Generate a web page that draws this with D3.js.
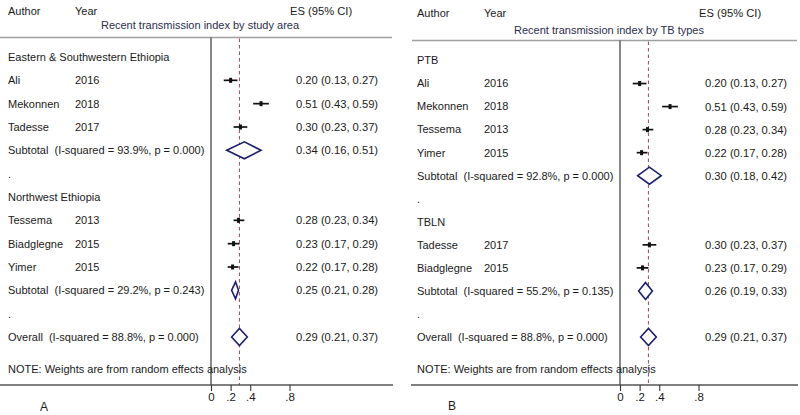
<!DOCTYPE html>
<html><head><meta charset="utf-8">
<script src="https://cdn.jsdelivr.net/npm/d3@7"></script>
<style>
body{margin:0;background:#fff;}
text{font-family:"Liberation Sans",Arial,sans-serif;font-size:11px;fill:#1a1a1a;white-space:pre;}
text.es{font-size:11.2px;}
</style></head><body>
<svg id="c" width="800" height="415"></svg>
<script>
// ---------- data ----------
const tickValues = [0, 0.2, 0.4, 0.8];
const tickLabels = ["0", ".2", ".4", ".8"];

const titleA = "Recent transmission index by study area";
const groupsA = ["Eastern & Southwestern Ethiopia", "Northwest Ethiopia"];
const authorsA = ["Ali", "Mekonnen", "Tadesse", "Tessema", "Biadglegne", "Yimer"];
const yearsA = [2016, 2018, 2017, 2013, 2015, 2015];
const groupOfA = [0, 0, 0, 1, 1, 1];
const esA = [0.20, 0.51, 0.30, 0.28, 0.23, 0.22];
const lowA = [0.13, 0.43, 0.23, 0.23, 0.17, 0.17];
const highA = [0.27, 0.59, 0.37, 0.34, 0.29, 0.28];
const subEsA = [0.34, 0.25];
const subLowA = [0.16, 0.21];
const subHighA = [0.51, 0.28];
const subI2A = ["93.9%", "29.2%"];
const subPA = ["0.000", "0.243"];

const titleB = "Recent transmission index by TB types";
const groupsB = ["PTB", "TBLN"];
const authorsB = ["Ali", "Mekonnen", "Tessema", "Yimer", "Tadesse", "Biadglegne"];
const yearsB = [2016, 2018, 2013, 2015, 2017, 2015];
const groupOfB = [0, 0, 0, 0, 1, 1];
const esB = [0.20, 0.51, 0.28, 0.22, 0.30, 0.23];
const lowB = [0.13, 0.43, 0.23, 0.17, 0.23, 0.17];
const highB = [0.27, 0.59, 0.34, 0.28, 0.37, 0.29];
const subEsB = [0.30, 0.26];
const subLowB = [0.18, 0.19];
const subHighB = [0.42, 0.33];
const subI2B = ["92.8%", "55.2%"];
const subPB = ["0.000", "0.135"];

const overallEs = 0.29, overallLow = 0.21, overallHigh = 0.37;
const overallI2 = "88.8%", overallP = "0.000";

// ---------- drawing ----------
const svg = d3.select("#c");
const fmt = d3.format(".2f");
const esText = (e, l, h) => `${fmt(e)} (${fmt(l)}, ${fmt(h)})`;

function panel(cfg) {
  const g = svg.append("g").attr("transform", `translate(${cfg.off},0)`);
  const x = d3.scaleLinear().domain([0, 0.8]).range([211, 289.5]);
  const rows = [];
  cfg.groups.forEach((gr, gi) => {
    rows.push({type: "group", label: gr});
    cfg.authors.forEach((a, i) => {
      if (cfg.groupOf[i] === gi) rows.push({type: "study", author: a, year: cfg.years[i], es: cfg.es[i], lo: cfg.low[i], hi: cfg.high[i]});
    });
    rows.push({type: "diamond", label: `Subtotal  (I-squared = ${cfg.subI2[gi]}, p = ${cfg.subP[gi]})`, es: cfg.subEs[gi], lo: cfg.subLow[gi], hi: cfg.subHigh[gi]});
    rows.push({type: "dot"});
  });
  rows.push({type: "diamond", label: `Overall  (I-squared = ${overallI2}, p = ${overallP})`, es: overallEs, lo: overallLow, hi: overallHigh});
  const y = d3.scaleLinear().domain([0, rows.length - 1]).range([cfg.y0, 337]);

  g.append("text").attr("x", 8).attr("y", cfg.hy).attr("dy", "0.35em").text("Author");
  g.append("text").attr("x", 75).attr("y", cfg.hy).attr("dy", "0.35em").text("Year");
  g.append("text").attr("class", "es").attr("x", 290).attr("y", cfg.hy).attr("dy", "0.35em").text("ES (95% CI)");
  g.append("text").attr("x", 200).attr("y", cfg.ty).attr("dy", "0.35em").attr("text-anchor", "middle")
    .style("fill", "#2b2e4e").text(cfg.title);
  g.append("line").attr("x1", cfg.sepX1).attr("x2", cfg.sepX2).attr("y1", cfg.sy).attr("y2", cfg.sy)
    .attr("stroke", "#a0a0a0").attr("stroke-width", 1.5);

  g.append("line").attr("x1", x(0)).attr("x2", x(0)).attr("y1", cfg.sy).attr("y2", 385)
    .attr("stroke", "#3a3a3a").attr("stroke-width", 1.2);
  g.append("line").attr("x1", x(overallEs)).attr("x2", x(overallEs)).attr("y1", cfg.sy + 1).attr("y2", 385)
    .attr("stroke", "#a4566e").attr("stroke-width", 1.1).attr("stroke-dasharray", "3.5,3");

  rows.forEach((r, i) => {
    const yy = y(i);
    if (r.type === "group") {
      g.append("text").attr("x", 8).attr("y", yy).attr("dy", "0.35em").text(r.label);
    } else if (r.type === "dot") {
      g.append("text").attr("x", 8).attr("y", yy).attr("dy", "0.35em").text(".");
    } else if (r.type === "study") {
      g.append("text").attr("x", 8).attr("y", yy).attr("dy", "0.35em").text(r.author);
      g.append("text").attr("x", 75).attr("y", yy).attr("dy", "0.35em").text(r.year);
      g.append("text").attr("class", "es").attr("x", 296).attr("y", yy).attr("dy", "0.35em").text(esText(r.es, r.lo, r.hi));
      g.append("line").attr("x1", x(r.lo)).attr("x2", x(r.hi)).attr("y1", yy).attr("y2", yy)
        .attr("stroke", "#111").attr("stroke-width", 1.7);
      g.append("rect").attr("x", x(r.es) - 1.5).attr("y", yy - 2.5).attr("width", 3).attr("height", 5).attr("fill", "#111");
    } else {
      g.append("text").attr("x", 8).attr("y", yy).attr("dy", "0.35em").text(r.label);
      g.append("text").attr("class", "es").attr("x", 296).attr("y", yy).attr("dy", "0.35em").text(esText(r.es, r.lo, r.hi));
      const h = 8.5;
      g.append("path")
        .attr("d", `M${x(r.lo)},${yy}L${x(r.es)},${yy - h}L${x(r.hi)},${yy}L${x(r.es)},${yy + h}Z`)
        .attr("fill", "#fff").attr("stroke", "#1c1f6a").attr("stroke-width", 1.6);
    }
  });

  g.append("text").attr("x", 8).attr("y", 369).attr("dy", "0.35em").text("NOTE: Weights are from random effects analysis");

  g.append("line").attr("x1", cfg.axX1).attr("x2", cfg.axX2).attr("y1", 385).attr("y2", 385)
    .attr("stroke", "#555").attr("stroke-width", 1.5);
  const axis = d3.axisBottom(x).tickValues(tickValues).tickFormat((d, i) => tickLabels[i]).tickSize(6).tickPadding(2);
  const ag = g.append("g").attr("transform", "translate(0,385)").call(axis);
  ag.select(".domain").remove();
  ag.selectAll(".tick line").attr("stroke", "#333").attr("stroke-width", 1.1);
  ag.selectAll(".tick text").style("font-family", "Liberation Sans, Arial, sans-serif").style("font-size", "11.5px").attr("fill", "#1a1a1a");

  g.append("text").attr("x", cfg.lx).attr("y", cfg.ly).attr("dy", "0.35em").style("font-size", "12px").text(cfg.letter);
}

panel({off: 0, title: titleA, groups: groupsA, authors: authorsA, years: yearsA, groupOf: groupOfA,
  es: esA, low: lowA, high: highA, subEs: subEsA, subLow: subLowA, subHigh: subHighA, subI2: subI2A, subP: subPA,
  y0: 57, hy: 11, ty: 25.5, sy: 37.5, sepX1: 0, sepX2: 392, axX1: 0, axX2: 393, lx: 40, ly: 406.5, letter: "A"});
panel({off: 409, title: titleB, groups: groupsB, authors: authorsB, years: yearsB, groupOf: groupOfB,
  es: esB, low: lowB, high: highB, subEs: subEsB, subLow: subLowB, subHigh: subHighB, subI2: subI2B, subP: subPB,
  y0: 60.5, hy: 13, ty: 30, sy: 40.5, sepX1: 3, sepX2: 388, axX1: 2, axX2: 389, lx: 39, ly: 405.5, letter: "B"});
</script>
</body></html>
